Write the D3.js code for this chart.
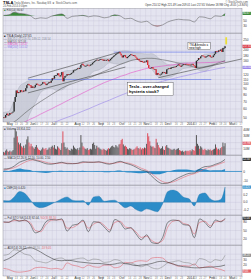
<!DOCTYPE html>
<html>
<head>
<meta charset="utf-8">
<script src="https://cdn.jsdelivr.net/npm/d3@7"></script>
<style>
  body { margin: 0; background: #fff; }
  svg { display: block; font-family: "Liberation Sans", Arial, sans-serif; }
</style>
</head>
<body>
<svg></svg>
<script>
// TSLA daily, 25-Apr-2013 .. 24-Feb-2014

// one close per trading day
const closes = [
  50.5, 50.2, 53.0, 54.6,
  52.6, 53.2, 55.3, 54.9, 55.8, 56.9, 69.4, 76.8, 87.8, 83.2, 84.8, 84.5, 88.4, 86.0, 85.6, 87.7, 86.5, 92.0, 97.8, 100.5, 98.0, 97.8,
  92.5, 95.3, 93.0, 93.5, 98.0, 101.0, 99.0, 98.5, 98.0, 98.8, 100.5, 104.0, 103.5, 101.0, 98.0, 100.5, 102.0, 104.5, 103.0, 107.5,
  113.0, 112.0, 119.0, 120.0, 120.5, 125.0, 119.5, 117.0, 120.0, 128.0, 106.0, 114.0, 118.0, 119.0, 123.0, 120.5, 122.0, 122.5, 125.5, 127.0, 133.0, 134.3,
  134.5, 136.0, 138.5, 136.5, 140.0, 148.5, 152.0, 147.5, 145.0, 145.5, 146.0, 149.0, 146.5, 146.0, 149.5, 150.0, 155.0, 158.0, 161.0, 163.0, 165.0, 164.0,
  164.0, 166.5, 167.0, 166.0, 161.5, 165.0, 163.5, 164.0, 166.0, 160.0, 163.0, 168.0, 172.0, 175.0, 179.0, 182.0, 186.0, 188.0, 190.0, 193.0,
  187.0, 180.0, 173.0, 180.5, 182.0, 174.0, 170.5, 175.0, 178.0, 182.0, 184.5, 181.0, 178.5, 181.5, 176.0, 172.0, 165.0, 167.5, 162.0, 158.0, 161.0, 157.0, 156.0,
  159.0, 158.0, 163.0, 148.0, 139.0, 137.5, 139.5, 142.0, 137.0, 135.5, 136.0, 121.0, 125.5, 122.0, 121.5, 121.5, 124.5, 128.5, 126.5, 127.3,
  123.5, 135.5, 137.0, 139.0, 136.5, 140.5, 141.5, 142.0, 143.0, 142.0, 145.0, 147.0, 150.0, 146.0, 143.0, 146.5, 149.0, 151.0, 149.5, 151.5, 150.4,
  150.1, 149.6, 147.0, 149.4, 151.5, 147.0, 145.7, 139.3, 161.3, 164.1, 170.9, 170.0, 176.7, 180.5, 179.0, 177.0, 172.5, 176.0, 177.5, 181.0, 181.4,
  174.6, 175.4, 174.1, 180.6, 186.5, 196.6, 195.8, 194.2, 200.0, 198.2, 203.7, 193.6, 209.6, 209.6, 217.65
];

// daily volume, millions
const volumes = [
  5, 4, 7, 9,
  6, 5, 7, 5, 6, 8, 28, 42, 38, 30, 20, 17, 19, 14, 12, 15, 11, 17, 25, 30, 20, 14,
  18, 14, 12, 10, 13, 16, 12, 9, 8, 7, 9, 12, 10, 9, 11, 8, 9, 12, 10, 13,
  15, 12, 16, 10, 9, 14, 12, 10, 8, 19, 38, 20, 13, 10, 12, 9, 8, 7, 10, 9, 15, 12,
  10, 9, 11, 8, 12, 32, 20, 14, 12, 10, 9, 11, 8, 9, 10, 9, 18, 20, 16, 10, 15, 12,
  12, 10, 9, 8, 10, 9, 8, 7, 9, 11, 10, 12, 14, 15, 13, 12, 16, 14, 12, 17,
  18, 24, 26, 17, 14, 15, 13, 10, 9, 11, 10, 9, 8, 9, 10, 12, 14, 11, 10, 12, 9, 11, 10,
  12, 11, 18, 35, 30, 22, 15, 13, 14, 12, 11, 26, 20, 16, 12, 10, 11, 14, 9, 8,
  14, 16, 12, 11, 10, 9, 8, 9, 10, 8, 9, 10, 11, 8, 7, 6, 7, 5, 6, 7, 6,
  7, 6, 8, 6, 9, 8, 7, 14, 32, 18, 15, 10, 14, 12, 9, 8, 10, 8, 7, 9, 8,
  9, 7, 8, 9, 10, 17, 12, 9, 10, 8, 11, 13, 20, 14, 19
];

// indicators, read every 5th trading day plus the last day
const rsi = [72, 74, 85, 80, 78, 72, 58, 62, 60, 68, 74, 78, 60, 68, 70, 72, 66, 70, 68, 62,
  66, 74, 70, 58, 60, 50, 44, 48, 34, 28, 33, 45, 52, 56, 54, 53, 45, 66, 64, 58, 70, 68, 80];
const ma50 = [42, 43.5, 46, 50, 55, 60, 65, 70, 75, 80.5, 86, 92, 97, 101, 105, 109, 113, 118, 124, 130,
  136, 143, 150, 156, 162, 166, 168, 170, 170, 168, 165, 162, 158, 154, 150, 146, 142, 141, 143, 146, 151, 157, 162];
const ma100 = [40, 41, 42.5, 44, 46, 48.5, 51, 54, 57, 60, 63.5, 67, 71, 75, 79, 83.5, 88, 93, 98, 103,
  107.5, 112, 117, 121, 126, 130, 134, 138, 141, 143, 145, 147, 149, 151, 153, 154, 155, 155, 155.5, 156, 157, 158, 159.5];
const ma200 = [33, 34, 35, 36, 37.5, 39, 40.5, 42, 43.5, 45, 46.5, 48.5, 50.5, 52.5, 55, 57.5, 60, 63, 66, 69,
  72, 75.5, 79, 82.5, 86, 89.5, 93, 96.5, 100, 103, 106, 109, 112, 115, 118, 121, 124, 127, 130, 133, 136, 139, 141];
const bbUpper = [56, 57, 72, 95, 103, 108, 109, 108, 106, 107, 118, 128, 132, 133, 139, 153, 155, 160, 170, 171,
  170, 183, 196, 198, 195, 190, 188, 186, 187, 175, 160, 150, 148, 155, 156, 155, 154, 170, 185, 187, 195, 205, 220];
const bbLower = [42, 42, 40, 35, 42, 55, 68, 84, 90, 92, 88, 89, 96, 104, 108, 110, 117, 130, 134, 143,
  155, 152, 150, 155, 163, 167, 160, 156, 135, 118, 112, 114, 118, 128, 138, 140, 142, 132, 130, 140, 150, 160, 158];
const macd = [2.5, 3, 5.5, 9.5, 11.5, 13, 11.5, 10, 8, 7.5, 8.5, 9.5, 8, 8, 8.5, 10, 9.5, 9.5, 10, 8.5,
  7.5, 9, 10.5, 8.5, 7, 4.5, 1.5, 0, -5, -10, -12.5, -12, -9.5, -6.5, -4, -2, -1.5, 2.5, 5, 5.5, 7.5, 9.5, 12.5];
const macdSignal = [1.5, 2.5, 3.8, 6.5, 9.5, 11.5, 12, 11, 9.5, 8.3, 8.2, 8.8, 8.6, 8.2, 8.3, 9.2, 9.6, 9.5, 9.7, 9.2,
  8.2, 8.5, 9.6, 9.2, 8, 6, 3.3, 1.2, -2.5, -7, -10.5, -11.8, -10.8, -8.5, -6, -3.8, -2.3, 0, 2.8, 4.5, 6.3, 8.3, 10];
const cmf = [0.05, 0.04, 0.15, 0.30, 0.25, 0.08, -0.10, -0.15, -0.12, -0.05, 0.02, 0.10, 0.15, 0.06, 0.04, 0.05, -0.08, 0.15, 0.17, 0.03,
  0.05, 0.06, -0.05, -0.15, -0.10, -0.20, -0.25, -0.18, -0.22, -0.26, -0.05, 0.30, 0.34, 0.28, 0.14, 0.10, -0.10, 0.22, 0.26, 0.10, 0.04, 0.08, 0.42];
const stochK = [80, 78, 88, 82, 86, 72, 42, 50, 80, 88, 86, 90, 48, 68, 72, 86, 46, 80, 78, 62,
  45, 88, 78, 55, 60, 38, 18, 35, 8, 5, 25, 78, 86, 84, 70, 68, 25, 90, 78, 60, 86, 80, 92];
const stochD = [78, 79, 84, 84, 84, 78, 50, 46, 70, 85, 87, 87, 58, 60, 70, 82, 58, 72, 79, 68,
  52, 78, 82, 62, 58, 45, 26, 30, 15, 7, 15, 62, 82, 85, 74, 69, 38, 78, 82, 66, 80, 82, 88];
const adx = [28, 32, 38, 45, 50, 52, 49, 44, 38, 33, 29, 28, 29, 28, 26, 25, 24, 23, 23, 22,
  21, 22, 24, 23, 21, 19, 20, 21, 23, 26, 27, 25, 22, 19, 17, 16, 15, 15, 16, 16, 17, 18, 20];
const plusDI = [38, 40, 48, 46, 40, 38, 28, 26, 24, 28, 32, 33, 28, 30, 32, 33, 28, 31, 30, 25,
  26, 30, 28, 22, 24, 20, 17, 20, 15, 13, 17, 24, 26, 28, 25, 24, 20, 32, 30, 25, 30, 28, 38];
const minusDI = [14, 12, 8, 7, 8, 10, 15, 16, 15, 13, 14, 12, 24, 20, 18, 15, 20, 17, 16, 20,
  20, 15, 17, 25, 24, 27, 28, 27, 33, 34, 33, 25, 22, 18, 19, 18, 22, 15, 16, 18, 14, 12, 9];

// hand-drawn annotations (trading-day index, price)
const trendStart = [[23, 113], [23, 83.5], [146, 114]];
const trendEnd = [[110, 194], [115, 142], [225, 168]];
const levelPrice = [193, 110];
const levelFrom = [104, 23];
const levelTo = [203, 196];

const monthLabels = ["May", "Jun", "Jul", "Aug", "Sep", "Oct", "Nov", "Dec", "2014", "Feb", "Mar"];
const priceTicks = [250, 220, 200, 180, 160, 140, 120, 110, 100, 90, 80, 70, 60, 50];
const rsiTicks = [70, 50, 30];
const volumeTicks = [10, 20, 30, 40];
const macdTicks = [10, 0, -10];
const cmfTicks = [0.4, 0.2, 0, -0.2];
const stochTicks = [80, 50, 20];
const adxTicks = [40, 30, 20, 10];

const width = 251, height = 280;
const svg = d3.select("svg")
  .attr("width", width)
  .attr("height", height)
  .attr("viewBox", `0 0 ${width} ${height}`);

const left = 3, right = 242;
const x = d3.scaleLinear().domain([-0.5, 225]).range([left, right]);

// trading calendar for the date axis
const holidays = new Set(["2013-05-27", "2013-07-04", "2013-09-02", "2013-11-28", "2013-12-25", "2014-01-01", "2014-01-20", "2014-02-17"]);
const dayKey = d3.timeFormat("%Y-%m-%d");
const days = d3.timeDay.range(new Date(2013, 3, 25), new Date(2014, 2, 29))
  .filter(d => d.getDay() !== 0 && d.getDay() !== 6 && !holidays.has(dayKey(d)));
const monthIdx = [], weekIdx = [];
days.forEach((d, i) => {
  if (i === 0 || i > 225) return;
  if (d.getMonth() !== days[i - 1].getMonth()) monthIdx.push(i);
  if (d.getDay() < days[i - 1].getDay()) weekIdx.push(i);
});

const sIdx = d3.range(0, closes.length, 5).concat([closes.length - 1]);
const last = closes.length - 1;
const lastOf = arr => arr[arr.length - 1];

const borders = [];
let clipN = 0;
// tagVals: last values shown as coloured tags, axis labels next to them are left out
function panel(top, bottom, y, ticks, fmt, tagVals) {
  const g = svg.append("g");
  g.append("rect")
    .attr("x", left).attr("y", top)
    .attr("width", right - left).attr("height", bottom - top)
    .attr("fill", "#e4e4f0");
  g.selectAll("line.v").data(weekIdx).join("line").attr("class", "v")
    .attr("x1", d => x(d)).attr("x2", d => x(d))
    .attr("y1", top).attr("y2", bottom)
    .attr("stroke", "#cbcbdf").attr("stroke-width", 0.4);
  g.selectAll("line.h").data(ticks).join("line").attr("class", "h")
    .attr("x1", left).attr("x2", right)
    .attr("y1", d => y(d)).attr("y2", d => y(d))
    .attr("stroke", "#c4c4da").attr("stroke-width", 0.4);
  const shown = ticks.filter(t => tagVals.every(v => Math.abs(y(t) - y(v)) > 3.4));
  g.selectAll("text").data(shown).join("text")
    .attr("x", right + 1.2).attr("y", d => y(d) + 1.1)
    .attr("font-size", 3.2).attr("fill", "#333")
    .text(fmt);
  const id = "clip" + (clipN++);
  svg.append("clipPath").attr("id", id).append("rect")
    .attr("x", left).attr("y", top)
    .attr("width", right - left).attr("height", bottom - top);
  borders.push([top, bottom]);
  return svg.append("g").attr("clip-path", `url(#${id})`);
}

function sampled(arr, y) {
  return d3.line().x((d, i) => x(sIdx[i])).y(d => y(d)).curve(d3.curveMonotoneX)(arr);
}

function tag(y, label, bg) {
  svg.append("rect").attr("x", right + 0.5).attr("y", y - 1.6)
    .attr("width", 8.4).attr("height", 3.2).attr("fill", bg);
  svg.append("text").attr("x", right + 1).attr("y", y + 0.9)
    .attr("font-size", 2.7).attr("fill", "#fff").text(label);
}

function legend(g, y, parts) {
  const t = g.append("text").attr("x", left + 1).attr("y", y).attr("font-size", 2.8);
  parts.forEach(([s, c]) => t.append("tspan").attr("fill", c).text(s));
}

function dateAxis(yText) {
  const g = svg.append("g");
  g.selectAll("text.m").data(monthIdx.slice(0, monthLabels.length)).join("text").attr("class", "m")
    .attr("x", d => x(d) - 1).attr("y", yText)
    .attr("font-size", 3.3).attr("fill", "#222")
    .text((d, i) => monthLabels[i]);
  const weeks = weekIdx.filter(w => monthIdx.every(m => Math.abs(w - m) > 3));
  g.selectAll("text.w").data(weeks).join("text").attr("class", "w")
    .attr("x", d => x(d)).attr("y", yText)
    .attr("text-anchor", "middle")
    .attr("font-size", 2.6).attr("fill", "#777")
    .text(d => days[d].getDate());
}

// header
svg.append("text").attr("x", 3).attr("y", 4).attr("font-size", 4).attr("font-weight", "bold").text("TSLA");
svg.append("text").attr("x", 14).attr("y", 4).attr("font-size", 2.8).attr("fill", "#555")
  .text("Tesla Motors, Inc.  Nasdaq GS  \u2605 StockCharts.com");
svg.append("text").attr("x", 3).attr("y", 7.4).attr("font-size", 2.6).attr("fill", "#555")
  .text("24-Feb-2014 4:00pm");
svg.append("text").attr("x", 248).attr("y", 2.6).attr("text-anchor", "end")
  .attr("font-size", 2.6).attr("fill", "#555").text("\u00a9 StockCharts.com");
svg.append("text").attr("x", 248).attr("y", 6).attr("text-anchor", "end")
  .attr("font-size", 2.7).attr("fill", "#333")
  .text("Open 210.52  High 221.49  Low 209.01  Last 217.65  Volume 18.9M  Chg +8.05 (+3.84%)");

// RSI panel
const yR = d3.scaleLinear().domain([0, 100]).range([33, 8.5]);
const gR = panel(8.5, 33, yR, rsiTicks, d => d, [lastOf(rsi)]);
gR.append("path")
  .attr("d", d3.area().x((d, i) => x(sIdx[i])).y0(yR(70)).y1(d => yR(Math.max(70, d))).curve(d3.curveMonotoneX)(rsi))
  .attr("fill", "#3d8a3d");
gR.append("path")
  .attr("d", d3.area().x((d, i) => x(sIdx[i])).y0(yR(30)).y1(d => yR(Math.min(30, d))).curve(d3.curveMonotoneX)(rsi))
  .attr("fill", "#d04848");
gR.append("path").attr("d", sampled(rsi, yR)).attr("fill", "none").attr("stroke", "#555").attr("stroke-width", 0.5);
legend(gR, 11.3, [["\u25a0 ", "#3d8a3d"], ["RSI(14) 80.67", "#333"]]);
tag(yR(lastOf(rsi)), "80.67", "#3d8a3d");

// price panel
const yP = d3.scaleLog().domain([45, 280]).range([123, 34]);
const gP = panel(33.5, 122, yP, priceTicks, d => d, [lastOf(closes), lastOf(ma200)]);
gP.append("path")
  .attr("d", d3.area().x((d, i) => x(sIdx[i])).y0((d, i) => yP(bbLower[i])).y1(d => yP(d)).curve(d3.curveMonotoneX)(bbUpper))
  .attr("fill", "#c3c7d2").attr("fill-opacity", 0.75)
  .attr("stroke", "#9fa3b0").attr("stroke-width", 0.35);
gP.append("path").attr("d", sampled(ma200, yP)).attr("fill", "none").attr("stroke", "#9b87ea").attr("stroke-width", 0.6);
gP.append("path").attr("d", sampled(ma100, yP)).attr("fill", "none").attr("stroke", "#e454c8").attr("stroke-width", 0.6);
gP.append("path").attr("d", sampled(ma50, yP)).attr("fill", "none").attr("stroke", "#555").attr("stroke-width", 0.55);
gP.selectAll("line.lvl").data(levelPrice).join("line").attr("class", "lvl")
  .attr("x1", (d, i) => x(levelFrom[i])).attr("x2", (d, i) => x(levelTo[i]))
  .attr("y1", d => yP(d)).attr("y2", d => yP(d))
  .attr("stroke", "#5a6ee6").attr("stroke-width", 0.6);
gP.selectAll("line.tr").data(trendStart).join("line").attr("class", "tr")
  .attr("x1", d => x(d[0])).attr("y1", d => yP(d[1]))
  .attr("x2", (d, i) => x(trendEnd[i][0])).attr("y2", (d, i) => yP(trendEnd[i][1]))
  .attr("stroke", "#444").attr("stroke-width", 0.6);
gP.selectAll("rect.c").data(closes).join("rect").attr("class", "c")
  .attr("x", (d, i) => x(i) - 0.7).attr("width", 1.4)
  .attr("y", (d, i) => yP(Math.max(d, i ? closes[i - 1] : d)))
  .attr("height", (d, i) => Math.max(0.7, Math.abs(yP(d) - yP(i ? closes[i - 1] : d))))
  .attr("fill", (d, i) => (i && d < closes[i - 1]) ? "#e0303c" : "#2a2a2a");
// yellow marker on the new high
gP.append("rect").attr("x", x(last + 1) - 0.8).attr("width", 1.8)
  .attr("y", yP(262)).attr("height", yP(226) - yP(262)).attr("fill", "#ecdf3a");
// note boxes
const b1 = gP.append("g");
b1.append("rect").attr("x", x(174)).attr("y", yP(236)).attr("width", x(195) - x(174)).attr("height", yP(203) - yP(236))
  .attr("fill", "#fff").attr("stroke", "#333").attr("stroke-width", 0.35);
b1.append("text").attr("x", x(174) + 1.3).attr("y", yP(236) + 3.4).attr("font-size", 2.9).text("TSLA breaks a");
b1.append("text").attr("x", x(174) + 1.3).attr("y", yP(236) + 6.6).attr("font-size", 2.9).text("new high");
const b2 = gP.append("g");
b2.append("rect").attr("x", x(117)).attr("y", yP(103)).attr("width", x(160) - x(117)).attr("height", yP(79) - yP(103))
  .attr("fill", "#fff").attr("stroke", "#333").attr("stroke-width", 0.35);
b2.append("text").attr("x", x(117) + 1.5).attr("y", yP(103) + 5.2).attr("font-size", 4.1).attr("font-weight", "bold").text("Tesla - over-charged");
b2.append("text").attr("x", x(117) + 1.5).attr("y", yP(103) + 10.6).attr("font-size", 4.1).attr("font-weight", "bold").text("hysteria stock?");
legend(gP, 37, [["\u25a0 ", "#222"], ["TSLA (Daily) 217.65", "#222"]]);
legend(gP, 39.8, [["\u2014 BB(20,2.0) 219.70, 189.12, 158.54", "#8a8e9a"]]);
legend(gP, 42.6, [["\u2014 MA(50) 162.08", "#555"]]);
legend(gP, 45.4, [["\u2014 MA(100) 159.47", "#e454c8"]]);
legend(gP, 48.2, [["\u2014 MA(200) 141.02", "#9b87ea"]]);
tag(yP(lastOf(closes)), "217.65", "#d8333f");
tag(yP(lastOf(ma200)), "141.02", "#9b87ea");

dateAxis(125.3);

// volume panel
const yV = d3.scaleLinear().domain([0, 45]).range([155, 127]);
const gV = panel(126.5, 155, yV, volumeTicks, d => d + "M", [volumes[last]]);
gV.selectAll("rect").data(volumes).join("rect")
  .attr("x", (d, i) => x(i) - 0.5).attr("width", 1)
  .attr("y", d => yV(d)).attr("height", d => yV(0) - yV(d))
  .attr("fill", (d, i) => (i && closes[i] < closes[i - 1]) ? "#de4f5d" : "#575757");
legend(gV, 129.5, [["\u25a0 ", "#575757"], ["Volume 18,914,112", "#333"]]);
tag(yV(volumes[last]), "18.9M", "#de4f5d");

// MACD panel
const yM = d3.scaleLinear().domain([-14, 16]).range([185, 156]);
const gM = panel(155.5, 185, yM, macdTicks, d => d, [lastOf(macd)]);
gM.append("path")
  .attr("d", d3.area().x((d, i) => x(sIdx[i])).y0(yM(0)).y1((d, i) => yM(d - macdSignal[i])).curve(d3.curveMonotoneX)(macd))
  .attr("fill", "#2c8cc8");
gM.append("line").attr("x1", left).attr("x2", right).attr("y1", yM(0)).attr("y2", yM(0))
  .attr("stroke", "#2c8cc8").attr("stroke-width", 0.8);
gM.append("path").attr("d", sampled(macdSignal, yM)).attr("fill", "none").attr("stroke", "#e2626a").attr("stroke-width", 0.55);
gM.append("path").attr("d", sampled(macd, yM)).attr("fill", "none").attr("stroke", "#333").attr("stroke-width", 0.55);
legend(gM, 158.5, [["\u2014 MACD(12,26,9) 12.50, 10.00, 2.50", "#333"]]);
tag(yM(lastOf(macd)), "12.50", "#333");

// CMF panel
const yC = d3.scaleLinear().domain([-0.35, 0.45]).range([215, 186]);
const gC = panel(185.5, 215, yC, cmfTicks, d => d.toFixed(1), [lastOf(cmf)]);
gC.append("path")
  .attr("d", d3.area().x((d, i) => x(sIdx[i])).y0(yC(0)).y1(d => yC(d)).curve(d3.curveMonotoneX)(cmf))
  .attr("fill", "#2c8cc8").attr("stroke", "#1f6fa3").attr("stroke-width", 0.3);
legend(gC, 188.7, [["\u25a0 ", "#2c8cc8"], ["CMF(20) 0.420", "#333"]]);
tag(yC(lastOf(cmf)), "0.420", "#2c8cc8");

// stochastic panel
const yS = d3.scaleLinear().domain([0, 100]).range([245, 216]);
const gS = panel(215.5, 245, yS, stochTicks, d => d, [lastOf(stochK)]);
gS.append("path").attr("d", sampled(stochD, yS)).attr("fill", "none").attr("stroke", "#e2626a").attr("stroke-width", 0.55);
gS.append("path").attr("d", sampled(stochK, yS)).attr("fill", "none").attr("stroke", "#333").attr("stroke-width", 0.55);
legend(gS, 218.7, [["\u2014 Full STO %K(14,3) 92.04, ", "#333"], ["%D(3) 88.10", "#e2626a"]]);
tag(yS(lastOf(stochK)), "92.04", "#333");

// ADX panel
const yA = d3.scaleLinear().domain([0, 55]).range([276, 246]);
const gA = panel(245.5, 276, yA, adxTicks, d => d, [lastOf(plusDI), lastOf(minusDI)]);
gA.append("path").attr("d", sampled(minusDI, yA)).attr("fill", "none").attr("stroke", "#e2626a").attr("stroke-width", 0.55);
gA.append("path").attr("d", sampled(plusDI, yA)).attr("fill", "none").attr("stroke", "#8a8a8a").attr("stroke-width", 0.55);
gA.append("path").attr("d", sampled(adx, yA)).attr("fill", "none").attr("stroke", "#333").attr("stroke-width", 0.55);
legend(gA, 248.7, [["\u2014 ADX(14) 20.12, ", "#333"], ["+DI 38.20, ", "#8a8a8a"], ["-DI 9.05", "#e2626a"]]);
tag(yA(lastOf(plusDI)), "38.20", "#8a8a8a");
tag(yA(lastOf(minusDI)), "9.05", "#e2626a");

dateAxis(279.4);

// panel borders on top
svg.selectAll("rect.border").data(borders).join("rect").attr("class", "border")
  .attr("x", left).attr("y", d => d[0])
  .attr("width", right - left).attr("height", d => d[1] - d[0])
  .attr("fill", "none").attr("stroke", "#80808f").attr("stroke-width", 0.4);
</script>
</body>
</html>
